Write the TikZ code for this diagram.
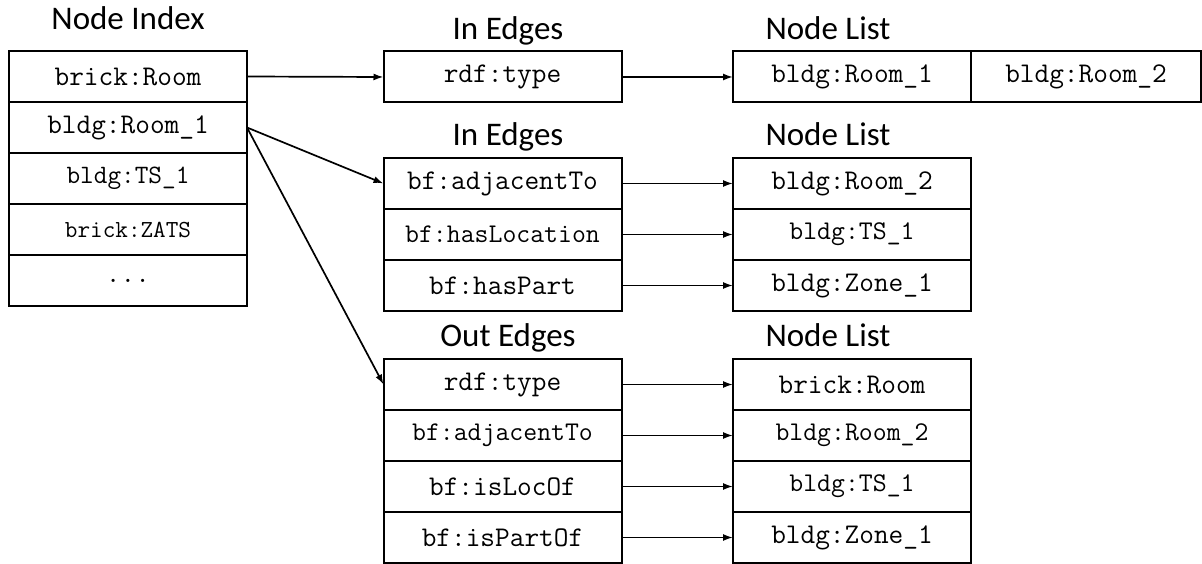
\documentclass[tikz,border=0pt]{standalone}
\usepackage{fontspec}
\setmainfont{Carlito}
\usetikzlibrary{arrows.meta,positioning}

\begin{document}
\begin{tikzpicture}[x=1pt,y=-1pt,
  cell/.style={draw,line width=2pt,outer sep=0pt,inner sep=0pt,
    minimum width=238pt,minimum height=51pt,
    font=\ttfamily\fontsize{28.5}{30}\selectfont},
  small/.style={font=\ttfamily\fontsize{#1}{30}\selectfont},
  title/.style={anchor=base,inner sep=0pt,font=\fontsize{33}{40}\selectfont},
  link/.style={line width=1.7pt,-{Latex[length=10pt,width=7pt]}}]

  \useasboundingbox (0,0) rectangle (1202,564);

  % headings                 x,y of baseline
  \node[title] (tindex) at (128,30)  {Node Index};
  \node[title] (tin1)   at (508,40)  {In Edges};
  \node[title] (tlist1) at (828,40)  {Node List};
  \node[title] (tin2)   at (508,146) {In Edges};
  \node[title] (tlist2) at (828,146) {Node List};
  \node[title] (tout)   at (508,346) {Out Edges};
  \node[title] (tlist3) at (828,346) {Node List};

  % node index column
  \node[cell] (idx1) at (128,76.5) {brick:Room};
  \node[cell,below=0pt of idx1] (idx2) {bldg:Room\_1};
  \node[cell,small=26.5,below=0pt of idx2] (idx3) {bldg:TS\_1};
  \node[cell,small=24.5,below=0pt of idx3] (idx4) {brick:ZATS};
  \node[cell,below=0pt of idx4] (idx5) {...};

  % in edges of brick:Room
  \node[cell] (ie1) at (502.5,77) {rdf:type};
  \node[cell] (nl1a) at (852,77) {bldg:Room\_1};
  \node[cell,minimum width=230pt,right=0pt of nl1a] (nl1b) {bldg:Room\_2};

  % in edges of bldg:Room_1
  \node[cell] (ie2a) at (502.5,183.5) {bf:adjacentTo};
  \node[cell,small=27,below=0pt of ie2a] (ie2b) {bf:hasLocation};
  \node[cell,below=0pt of ie2b] (ie2c) {bf:hasPart};
  \node[cell] (nl2a) at (852,183.5) {bldg:Room\_2};
  \node[cell,small=27,below=0pt of nl2a] (nl2b) {bldg:TS\_1};
  \node[cell,below=0pt of nl2b] (nl2c) {bldg:Zone\_1};

  % out edges of bldg:Room_1
  \node[cell] (oe1a) at (502.5,384.5) {rdf:type};
  \node[cell,small=27,below=0pt of oe1a] (oe1b) {bf:adjacentTo};
  \node[cell,below=0pt of oe1b] (oe1c) {bf:isLocOf};
  \node[cell,below=0pt of oe1c] (oe1d) {bf:isPartOf};
  \node[cell] (nl3a) at (852,384.5) {brick:Room};
  \node[cell,small=27,below=0pt of nl3a] (nl3b) {bldg:Room\_2};
  \node[cell,small=27,below=0pt of nl3b] (nl3c) {bldg:TS\_1};
  \node[cell,below=0pt of nl3c] (nl3d) {bldg:Zone\_1};

  % index -> edge lists
  \draw[link] (idx1.east) -- (ie1.west);
  \draw[link] (idx2.east) -- (ie2a.west);
  \draw[link] (idx2.east) -- (oe1a.west);

  % edge labels -> node lists
  \draw[link] (ie1.east) -- (nl1a.west);
  \foreach \r in {a,b,c}
    \draw[link] (ie2\r.east) -- (nl2\r.west);
  \foreach \r in {a,b,c,d}
    \draw[link] (oe1\r.east) -- (nl3\r.west);
\end{tikzpicture}
\end{document}
